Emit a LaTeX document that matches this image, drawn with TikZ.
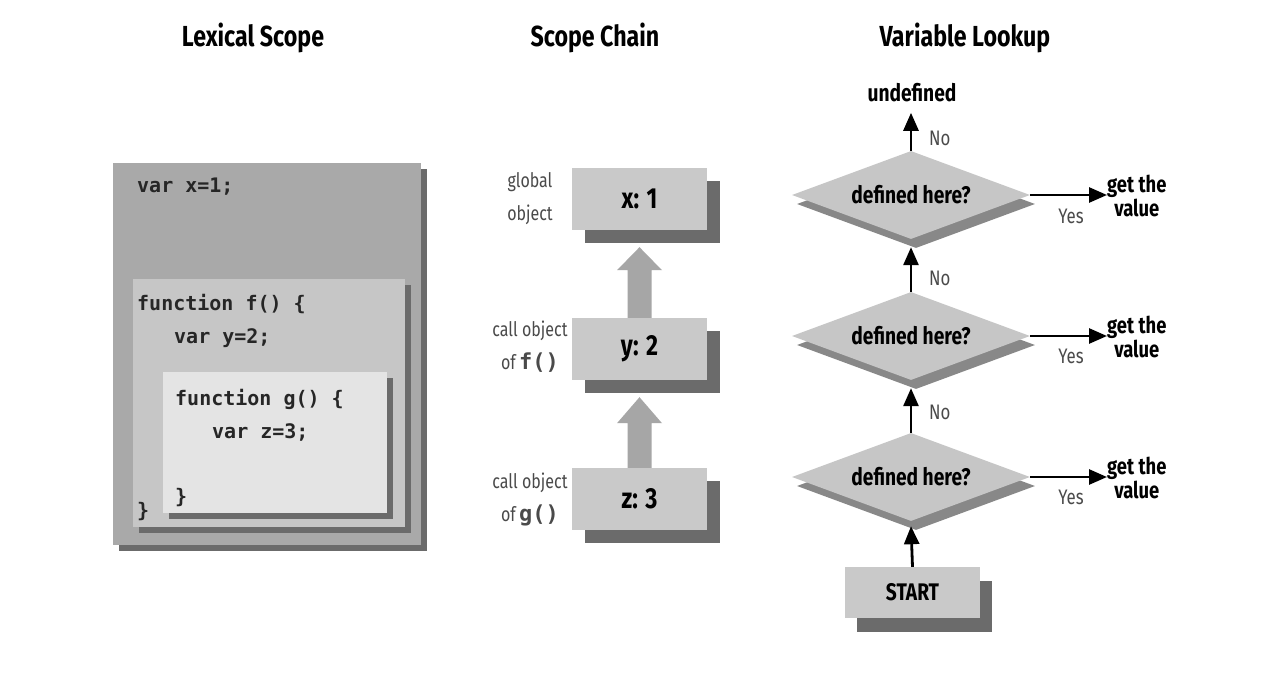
\documentclass[tikz,border=0pt]{standalone}
\usepackage{fontspec}
\setmainfont{Fira Sans}
\newfontfamily\cond[FakeStretch=0.8]{Fira Sans}
\newfontfamily\code{DejaVu Sans Mono}
\usetikzlibrary{shapes.geometric,shadows,arrows.meta,calc}
\definecolor{lexouter}{HTML}{A9A9A9}
\definecolor{lexmid}{HTML}{C6C6C6}
\definecolor{lexinner}{HTML}{E4E4E4}
\definecolor{boxgray}{HTML}{C9C9C9}
\definecolor{shadowgray}{HTML}{6B6B6B}
\definecolor{arrowgray}{HTML}{A6A6A6}
\definecolor{diagray}{HTML}{C6C6C6}
\definecolor{labgray}{HTML}{4A4A4A}
\begin{document}
\begin{tikzpicture}[x=1pt,y=-1pt,
  title/.style={font=\cond\bfseries\fontsize{29}{32}\selectfont, inner sep=0},
  codetxt/.style={font=\code\bfseries\fontsize{20}{24}\selectfont, anchor=base west, inner sep=0, text=black!85},
  lexbox/.style={anchor=north west, inner sep=0, draw=none,
    drop shadow={shadow xshift=6pt, shadow yshift=-6pt, fill=shadowgray, opacity=1}},
  sbox/.style={minimum width=135pt, minimum height=62pt, inner sep=0, fill=boxgray,
    drop shadow={shadow xshift=13pt, shadow yshift=-13pt, fill=shadowgray, opacity=1},
    font=\cond\bfseries\fontsize{29}{30}\selectfont},
  slab/.style={align=center, font=\cond\fontsize{20}{33}\selectfont, text=labgray, inner sep=0},
  dia/.style={diamond, minimum width=238pt, minimum height=88pt, inner sep=0, fill=diagray,
    drop shadow={shadow xshift=5pt, shadow yshift=-9pt, fill=shadowgray, opacity=0.8}},
  dtext/.style={font=\cond\bfseries\fontsize{24}{26}\selectfont, inner sep=0},
  gtxt/.style={align=center, font=\cond\bfseries\fontsize{23}{22}\selectfont, inner sep=0, anchor=west},
  ylab/.style={font=\cond\fontsize{21}{22}\selectfont, text=labgray, inner sep=0},
  arr/.style={line width=2.8pt, -{Triangle[width=15pt,length=18pt]}},
  startbox/.style={minimum width=135pt, minimum height=51pt, inner sep=0, fill=boxgray,
    drop shadow={shadow xshift=12pt, shadow yshift=-14pt, fill=shadowgray, opacity=1},
    font=\cond\bfseries\fontsize{24}{26}\selectfont}
]
\useasboundingbox[fill=white] (0,0) rectangle (1270,690);

% titles
\node[title] (t1) at (253,38) {Lexical Scope};
\node[title] (t2) at (595,38) {Scope Chain};
\node[title] (t3) at (965,38) {Variable Lookup};

% lexical scope
\node[lexbox, fill=lexouter, minimum width=308pt, minimum height=382pt] (outer) at (113,163) {};
\node[lexbox, fill=lexmid, minimum width=272pt, minimum height=248pt] (mid) at (133,279) {};
\node[lexbox, fill=lexinner, minimum width=224pt, minimum height=141pt] (inner) at (163,372) {};
\node[codetxt] (c1) at (137,193) {var x=1;};
\node[codetxt] (c2) at (137,310) {function f() \{};
\node[codetxt] (c3) at (174,343) {var y=2;};
\node[codetxt] (c4) at (175,405) {function g() \{};
\node[codetxt] (c5) at (212,438) {var z=3;};
\node[codetxt] (c6) at (175,503) {\}};
\node[codetxt] (c7) at (137,517) {\}};

% scope chain
\node[sbox] (x1) at (639.5,199) {x: 1};
\node[sbox] (y2) at (639.5,349) {y: 2};
\node[sbox] (z3) at (639.5,499) {z: 3};
\fill[arrowgray] ($(y2.north)+(-12,0)$) -- ($(x1.south)+(-12,40)$) -- ($(x1.south)+(-22.5,40)$)
  -- ($(x1.south)+(0,17)$) -- ($(x1.south)+(22.5,40)$) -- ($(x1.south)+(12,40)$)
  -- ($(y2.north)+(12,0)$) -- cycle;
\fill[arrowgray] ($(z3.north)+(-12,0)$) -- ($(y2.south)+(-12,43)$) -- ($(y2.south)+(-22.5,43)$)
  -- ($(y2.south)+(0,17)$) -- ($(y2.south)+(22.5,43)$) -- ($(y2.south)+(12,43)$)
  -- ($(z3.north)+(12,0)$) -- cycle;
\node[slab] (l1) at (530,199) {global\\object};
\node[slab] (l2) at (530,347) {call object\\of\,{\code\bfseries\fontsize{22}{22}\selectfont f()}};
\node[slab] (l3) at (530,499) {call object\\of\,{\code\bfseries\fontsize{22}{22}\selectfont g()}};

% variable lookup
\node[dtext] (u) at (912,93) {undefined};
\node[dia] (d1) at (911,195) {};
\node[dia] (d2) at (911,336) {};
\node[dia] (d3) at (911,477) {};
\node[dtext] (dt1) at (d1) {defined here?};
\node[dtext] (dt2) at (d2) {defined here?};
\node[dtext] (dt3) at (d3) {defined here?};
\node[startbox] (st) at (912.5,592.5) {START};
\node[gtxt] (g1) at (1107,196) {get the\\value};
\node[gtxt] (g2) at (1107,337) {get the\\value};
\node[gtxt] (g3) at (1107,478) {get the\\value};

\draw[arr] (d1.north) -- ($(d1.north)+(0,-38)$) coordinate (ut);
\draw[arr] (d2.north) -- ([yshift=-8pt]d1.south);
\draw[arr] (d3.north) -- ([yshift=-8pt]d2.south);
\draw[arr] (st.north) -- ([yshift=-5pt]d3.south);
\draw[arr] (d1.east) -- (d1.east -| g1.west);
\draw[arr] (d2.east) -- (d2.east -| g2.west);
\draw[arr] (d3.east) -- (d3.east -| g3.west);

\node[ylab, anchor=west] (n1) at (929,138) {No};
\node[ylab, anchor=west] (n2) at (929,278) {No};
\node[ylab, anchor=west] (n3) at (929,412) {No};
\node[ylab] (y1) at (1071,216) {Yes};
\node[ylab] (y2l) at (1071,356) {Yes};
\node[ylab] (y3l) at (1071,497) {Yes};
\end{tikzpicture}
\end{document}
